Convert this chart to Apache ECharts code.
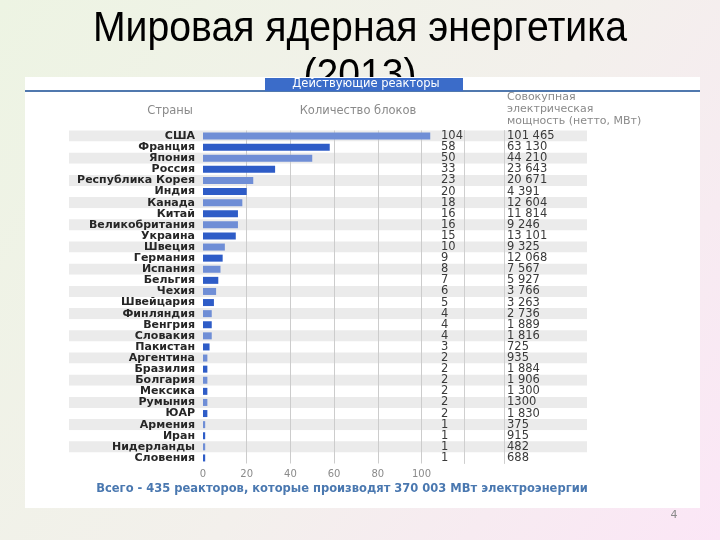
<!DOCTYPE html>
<html><head><meta charset="utf-8">
<script src="https://cdn.jsdelivr.net/npm/echarts@6/dist/echarts.min.js"></script>
<style>html,body{margin:0;padding:0;}#c{width:720px;height:540px;}</style>
</head><body><div id="c"></div>
<script>
const countries = ['США','Франция','Япония','Россия','Республика Корея','Индия','Канада','Китай','Великобритания','Украина','Швеция','Германия','Испания','Бельгия','Чехия','Швейцария','Финляндия','Венгрия','Словакия','Пакистан','Аргентина','Бразилия','Болгария','Мексика','Румыния','ЮАР','Армения','Иран','Нидерланды','Словения'];
const units = [104,58,50,33,23,20,18,16,16,15,10,9,8,7,6,5,4,4,4,3,2,2,2,2,2,2,1,1,1,1];
const capacity = ['101 465','63 130','44 210','23 643','20 671','4 391','12 604','11 814','9 246','13 101','9 325','12 068','7 567','5 927','3 766','3 263','2 736','1 889','1 816','725','935','1 884','1 906','1 300','1300','1 830','375','915','482','688'];
const xTicks = [0,20,40,60,80,100];
const titleLines = ['Мировая ядерная энергетика','(2013)'];
const headers = ['Страны','Количество блоков','Совокупная\nэлектрическая\nмощность (нетто, МВт)'];
const tabText = 'Действующие реакторы';
const footer = 'Всего - 435 реакторов, которые производят 370 003 МВт электроэнергии';
const pageNo = '4';

const chart = echarts.init(document.getElementById('c'), null, {renderer:'canvas'});
const F = 'DejaVu Sans';
const TF = 'Liberation Sans';
const TS = 42;
const TOP = 130.5, H = 333;
const lightC = '#6f8ed6', darkC = '#2e5cc7';

// horizontal condensing of the title to mimic a narrow face
const ctx = document.createElement('canvas').getContext('2d');
ctx.font = TS + 'px "' + TF + '"';
const titleScale = 534 / ctx.measureText(titleLines[0]).width;

chart.setOption({
  animation:false,
  graphic:[
    {type:'rect', z:-100, shape:{x:0,y:0,width:720,height:540},
     style:{fill:new echarts.graphic.LinearGradient(0,0,1,1,[{offset:0,color:'#edf4e3'},{offset:0.55,color:'#f3f0ec'},{offset:1,color:'#fbe6f6'}])}},
    {type:'text', z:-95, x:360, y:29, scaleX:titleScale, style:{text:titleLines[0], x:0, y:0, align:'center', verticalAlign:'middle', fontFamily:TF, fontSize:TS, fill:'#000'}},
    {type:'text', z:-95, x:360, y:76, scaleX:titleScale, style:{text:titleLines[1], x:0, y:0, align:'center', verticalAlign:'middle', fontFamily:TF, fontSize:TS, fill:'#000'}},
    {type:'rect', z:-90, shape:{x:25,y:77,width:675,height:431}, style:{fill:'#ffffff'}},
    {type:'rect', z:-89, shape:{x:25,y:90,width:675,height:2}, style:{fill:'#5078ae'}},
    {type:'rect', z:-88, shape:{x:265,y:78,width:198,height:13}, style:{fill:'#3b6cc9'}},
    {type:'text', z:-87, style:{text:tabText, x:366, y:84.5, align:'center', verticalAlign:'middle', fontFamily:F, fontSize:11.5, fill:'#ffffff'}},
    {type:'text', z:-87, style:{text:headers[0], x:170, y:111, align:'center', verticalAlign:'middle', fontFamily:F, fontSize:11.5, fill:'#8a8a8a'}},
    {type:'text', z:-87, style:{text:headers[1], x:358, y:111, align:'center', verticalAlign:'middle', fontFamily:F, fontSize:11.5, fill:'#8a8a8a'}},
    {type:'text', z:-87, style:{text:headers[2], x:507, y:109, align:'left', verticalAlign:'middle', fontFamily:F, fontSize:11, lineHeight:12, fill:'#8a8a8a'}},
    {type:'text', z:-87, style:{text:footer, x:342, y:489, align:'center', verticalAlign:'middle', fontFamily:F, fontSize:11.5, fontWeight:'bold', fill:'#4a78b0'}},
    {type:'text', z:-87, style:{text:pageNo, x:674, y:515, align:'center', verticalAlign:'middle', fontFamily:F, fontSize:11, fill:'#8a8a8a'}}
  ],
  grid:[
    {left:203, width:218.5, top:TOP, height:H},
    {left:69, width:518, top:TOP, height:H},
    {left:464, width:40, top:TOP, height:H}
  ],
  xAxis:[
    {gridIndex:0, type:'value', min:0, max:100, interval:20, z:2,
     axisLine:{show:false}, axisTick:{show:false},
     axisLabel:{color:'#8a8a8a', fontFamily:F, fontSize:10, margin:6, customValues:xTicks},
     splitLine:{show:true, showMinLine:false, lineStyle:{color:'#cccccc', width:1}}},
    {gridIndex:1, type:'value', show:false, splitLine:{show:false}},
    {gridIndex:2, type:'value', show:false, splitLine:{show:false}}
  ],
  yAxis:[
    {gridIndex:0, type:'category', inverse:true, data:countries, z:2,
     axisLine:{show:false}, axisTick:{show:false},
     axisLabel:{color:'#262626', fontFamily:F, fontSize:11, fontWeight:'bold', margin:8, interval:0}},
    {gridIndex:1, type:'category', inverse:true, data:countries, z:0,
     axisLine:{show:false}, axisTick:{show:false}, axisLabel:{show:false},
     splitArea:{show:true, interval:0, areaStyle:{color:['#ebebeb','#ffffff']}}},
    {gridIndex:2, type:'category', inverse:true, data:countries, position:'left', z:1,
     axisLine:{show:true, lineStyle:{color:'#cfcfcf'}}, axisTick:{show:false},
     axisLabel:{interval:0, align:'left', margin:23, color:'#3a3a3a', fontFamily:F, fontSize:11.5,
       formatter:(v,i)=>String(units[i])}},
    {gridIndex:2, type:'category', inverse:true, data:countries, position:'right', z:1,
     axisLine:{show:true, lineStyle:{color:'#cfcfcf'}}, axisTick:{show:false},
     axisLabel:{interval:0, align:'left', margin:3, color:'#3a3a3a', fontFamily:F, fontSize:11.5,
       formatter:(v,i)=>capacity[i]}}
  ],
  series:[{
    type:'bar', xAxisIndex:0, yAxisIndex:0, data:units, barWidth:7, clip:false, z:3,
    itemStyle:{color:(p)=> p.dataIndex % 2 === 0 ? lightC : darkC}
  }]
});
</script></body></html>
